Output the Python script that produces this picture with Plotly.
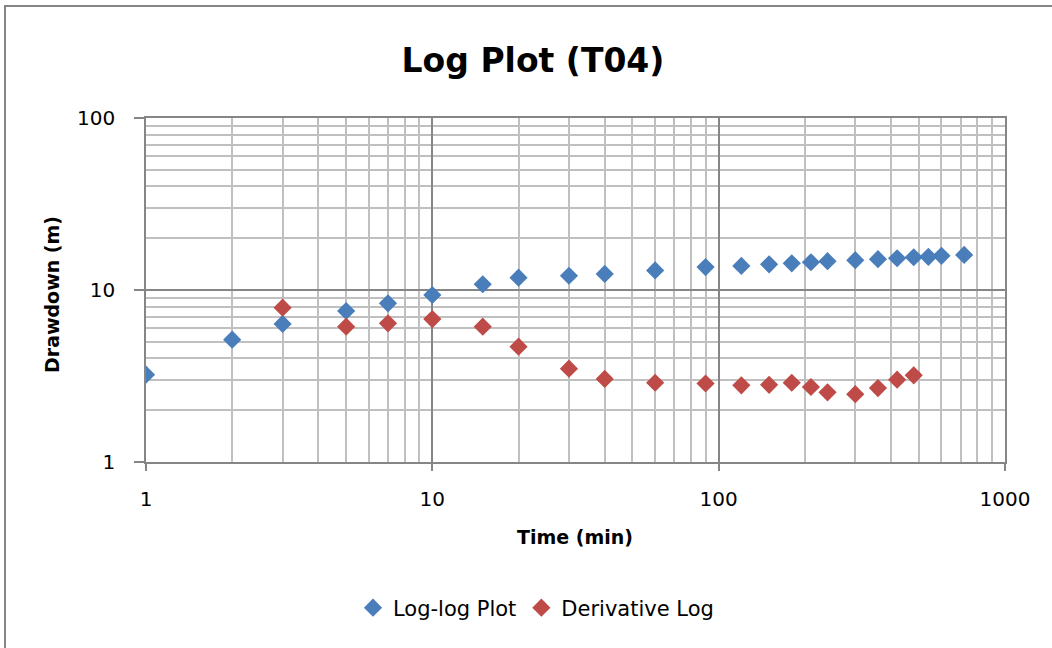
import plotly.graph_objects as go

# Pumping test T04: elapsed time (min) and drawdown (m)
time_loglog = [1, 2, 3, 5, 7, 10, 15, 20, 30, 40, 60, 90, 120, 150, 180, 210,
               240, 300, 360, 420, 480, 540, 600, 720]
drawdown_loglog = [3.22, 5.14, 6.35, 7.55, 8.37, 9.35, 10.8, 11.8, 12.1, 12.4,
                   13.0, 13.6, 13.8, 14.1, 14.3, 14.5, 14.7, 14.9, 15.1, 15.3,
                   15.5, 15.6, 15.8, 16.0]

time_deriv = [3, 5, 7, 10, 15, 20, 30, 40, 60, 90, 120, 150, 180, 210, 240,
              300, 360, 420, 480]
drawdown_deriv = [7.89, 6.12, 6.40, 6.78, 6.12, 4.68, 3.49, 3.04, 2.89, 2.86,
                  2.79, 2.81, 2.89, 2.73, 2.54, 2.48, 2.69, 3.01, 3.19]

x_ticks = [1, 10, 100, 1000]
y_ticks = [1, 10, 100]

FONT = "'DejaVu Sans', sans-serif"
BLUE = "#4A7EBB"
RED = "#BE4B48"
MAJOR = "#868686"
MINOR = "#C0C0C0"

W, H = 1052, 648
L, R, T, B = 146, 47, 118, 186
PW, PH = W - L - R, H - T - B


def px_x(px):
    return (px - L) / PW


def px_y(py):
    return (H - B - py) / PH


minor_x = [m * 10 ** e for e in range(0, 3) for m in range(2, 10)]
minor_y = [m * 10 ** e for e in range(0, 2) for m in range(2, 10)]

fig = go.Figure()
fig.add_trace(go.Scatter(
    x=time_loglog, y=drawdown_loglog, mode="markers", name="Log-log Plot",
    marker=dict(symbol="diamond", size=14, color=BLUE, line=dict(width=0)),
))
fig.add_trace(go.Scatter(
    x=time_deriv, y=drawdown_deriv, mode="markers", name="Derivative Log",
    marker=dict(symbol="diamond", size=14, color=RED, line=dict(width=0)),
))

axis_common = dict(
    type="log", showgrid=True, gridcolor=MAJOR, gridwidth=1.5,
    showline=True, linecolor=MAJOR, linewidth=1.5, mirror=True,
    ticks="outside", tickcolor=MAJOR, tickwidth=1.5,
    tickfont=dict(family=FONT, size=20, color="#000000"),
    zeroline=False, fixedrange=True,
)

fig.update_xaxes(
    **axis_common, range=[0, 3], tickmode="array", tickvals=x_ticks,
    ticktext=[str(v) for v in x_ticks], ticklen=7, ticklabelstandoff=11,
    minor=dict(tickmode="array", tickvals=minor_x, showgrid=True,
               gridcolor=MINOR, gridwidth=1.5, ticks=""),
)
fig.update_yaxes(
    **axis_common, range=[0, 2], tickmode="array", tickvals=y_ticks,
    ticktext=[str(v) for v in y_ticks], ticklen=10, ticklabelstandoff=15,
    minor=dict(tickmode="array", tickvals=minor_y, showgrid=True,
               gridcolor=MINOR, gridwidth=1.5, ticks=""),
)

fig.add_annotation(
    text="<b>Time (min)</b>", xref="paper", yref="paper",
    x=px_x(575), y=px_y(537), xanchor="center", yanchor="middle",
    showarrow=False, font=dict(family=FONT, size=19, color="#000000"),
)
fig.add_annotation(
    text="<b>Drawdown (m)</b>", xref="paper", yref="paper", textangle=-90,
    x=px_x(52), y=px_y(295), xanchor="center", yanchor="middle",
    showarrow=False, font=dict(family=FONT, size=19, color="#000000"),
)

# chart frame
fig.add_shape(
    type="rect", xref="paper", yref="paper", layer="below",
    x0=px_x(5), y0=px_y(660), x1=px_x(1060), y1=px_y(6),
    line=dict(color="#868686", width=2), fillcolor="rgba(0,0,0,0)",
)

fig.update_layout(
    width=W, height=H,
    margin=dict(l=L, r=R, t=T, b=B),
    paper_bgcolor="white", plot_bgcolor="white",
    title=dict(text="<b>Log Plot (T04)</b>", x=533 / W, xanchor="center",
               y=1 - 60 / H, yanchor="middle",
               font=dict(family=FONT, size=33, color="#000000")),
    showlegend=True,
    legend=dict(orientation="h", x=px_x(536), xanchor="center",
                y=px_y(608), yanchor="middle",
                font=dict(family=FONT, size=21, color="#000000"),
                bgcolor="rgba(0,0,0,0)"),
)

fig.write_html("out.html")
